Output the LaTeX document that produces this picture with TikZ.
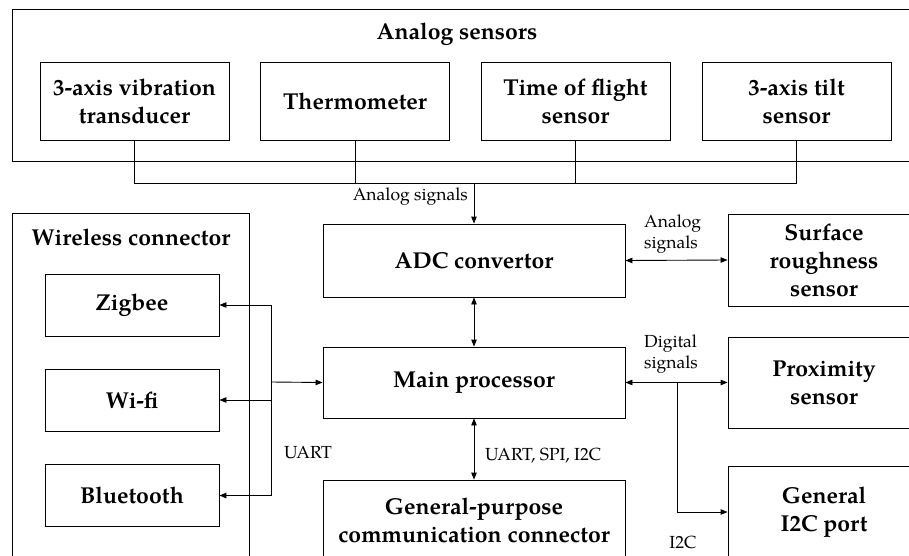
\documentclass[tikz,border=0pt]{standalone}
\usepackage{fontspec}
\setmainfont{texgyrepagella}[Extension=.otf, UprightFont=*-regular, BoldFont=*-bold, ItalicFont=*-italic, BoldItalicFont=*-bolditalic]
\usetikzlibrary{arrows.meta}
\tikzset{
  box/.style={draw, line width=0.9pt, align=center, inner sep=0pt,
    font=\fontsize{23}{28}\selectfont\bfseries},
  sensorbox/.style={box, minimum width=189pt, minimum height=78pt},
  midbox/.style={box, minimum width=302pt},
  radiobox/.style={box, minimum width=174pt, minimum height=62pt},
  sidebox/.style={box, minimum width=192pt},
  heading/.style={font=\fontsize{23}{28}\selectfont\bfseries, inner sep=0pt},
  sig/.style={font=\fontsize{17.5}{21}\selectfont, inner sep=0pt, align=left},
  wire/.style={line width=0.9pt},
  arr/.style={wire, -{Triangle[length=7pt,width=5.5pt]}},
  biarr/.style={wire, {Triangle[length=7pt,width=5.5pt]}-{Triangle[length=7pt,width=5.5pt]}},
}
\begin{document}
\begin{tikzpicture}[x=1pt, y=-1pt]
  \useasboundingbox (0,0) rectangle (909,556);
  \clip (0,0) rectangle (909,556);

  % analog sensor group
  \draw[wire] (12,9) rectangle (940,161);
  \node[heading] (agtitle) at (457,34) {Analog sensors};
  \node[sensorbox] (s1) at (134.5,101) {3-axis vibration\\transducer};
  \node[sensorbox] (s2) at (355,101) {Thermometer};
  \node[sensorbox] (s3) at (575.5,101) {Time of flight\\sensor};
  \node[sensorbox] (s4) at (796.5,101) {3-axis tilt\\sensor};

  % wireless connector group
  \draw[wire] (12,213) rectangle (249,620);
  \node[heading] (wltitle) at (131,237) {Wireless connector};
  \node[radiobox] (zig) at (132,305) {Zigbee};
  \node[radiobox] (wifi) at (132,400) {Wi-fi};
  \node[radiobox] (bt) at (132,495.5) {Bluetooth};

  % central column
  \node[midbox, minimum height=73pt] (adc) at (474,260.5) {ADC convertor};
  \node[midbox, minimum height=71pt] (main) at (474,382.5) {Main processor};
  \node[midbox, minimum height=81pt] (gp) at (474,520.5) {General-purpose\\communication connector};

  % right column
  \node[sidebox, minimum height=92pt] (surf) at (824,260) {Surface\\roughness\\sensor};
  \node[sidebox, minimum height=91pt] (prox) at (824,382.5) {Proximity\\sensor};
  \node[sidebox, minimum height=92pt] (i2c) at (824,512) {General\\I2C port};

  % analog bus from the sensors to the ADC
  \coordinate (bus) at (474,183);
  \draw[wire] (s1.south) |- (s4.south |- bus) -- (s4.south);
  \draw[wire] (s2.south) -- (s2.south |- bus);
  \draw[wire] (s3.south) -- (s3.south |- bus);
  \draw[arr] (bus) -- (adc.north);
  \node[sig, anchor=east] (lanalog) at (468,197) {Analog signals};

  % processor links
  \draw[biarr] (adc.south) -- (main.north);
  \draw[biarr] (main.south) -- (gp.north);
  \node[sig, anchor=west] (lbus) at (485,456) {UART, SPI, I2C};

  % UART fan-out to the radios
  \coordinate (ub) at (271,382);
  \draw[wire] (ub |- zig.east) -- (ub |- bt.east);
  \draw[arr] (ub) -- (main.west);
  \draw[arr] (ub |- zig.east) -- (zig.east);
  \draw[arr] (ub |- wifi.east) -- (wifi.east);
  \draw[arr] (ub |- bt.east) -- (bt.east);
  \node[sig, anchor=west] (luart) at (284,453) {UART};

  % right-hand sensors and port
  \draw[biarr] (adc.east) -- (surf.west);
  \node[sig, anchor=west] (lsurf) at (644,234) {Analog\\signals};
  \draw[biarr] (main.east) -- (prox.west);
  \node[sig, anchor=west] (lprox) at (644,354) {Digital\\signals};
  \coordinate (tap) at (677,382.5);
  \draw[arr] (tap) |- (i2c.west);
  \node[sig] (li2c) at (683,542) {I2C};
\end{tikzpicture}
\end{document}
